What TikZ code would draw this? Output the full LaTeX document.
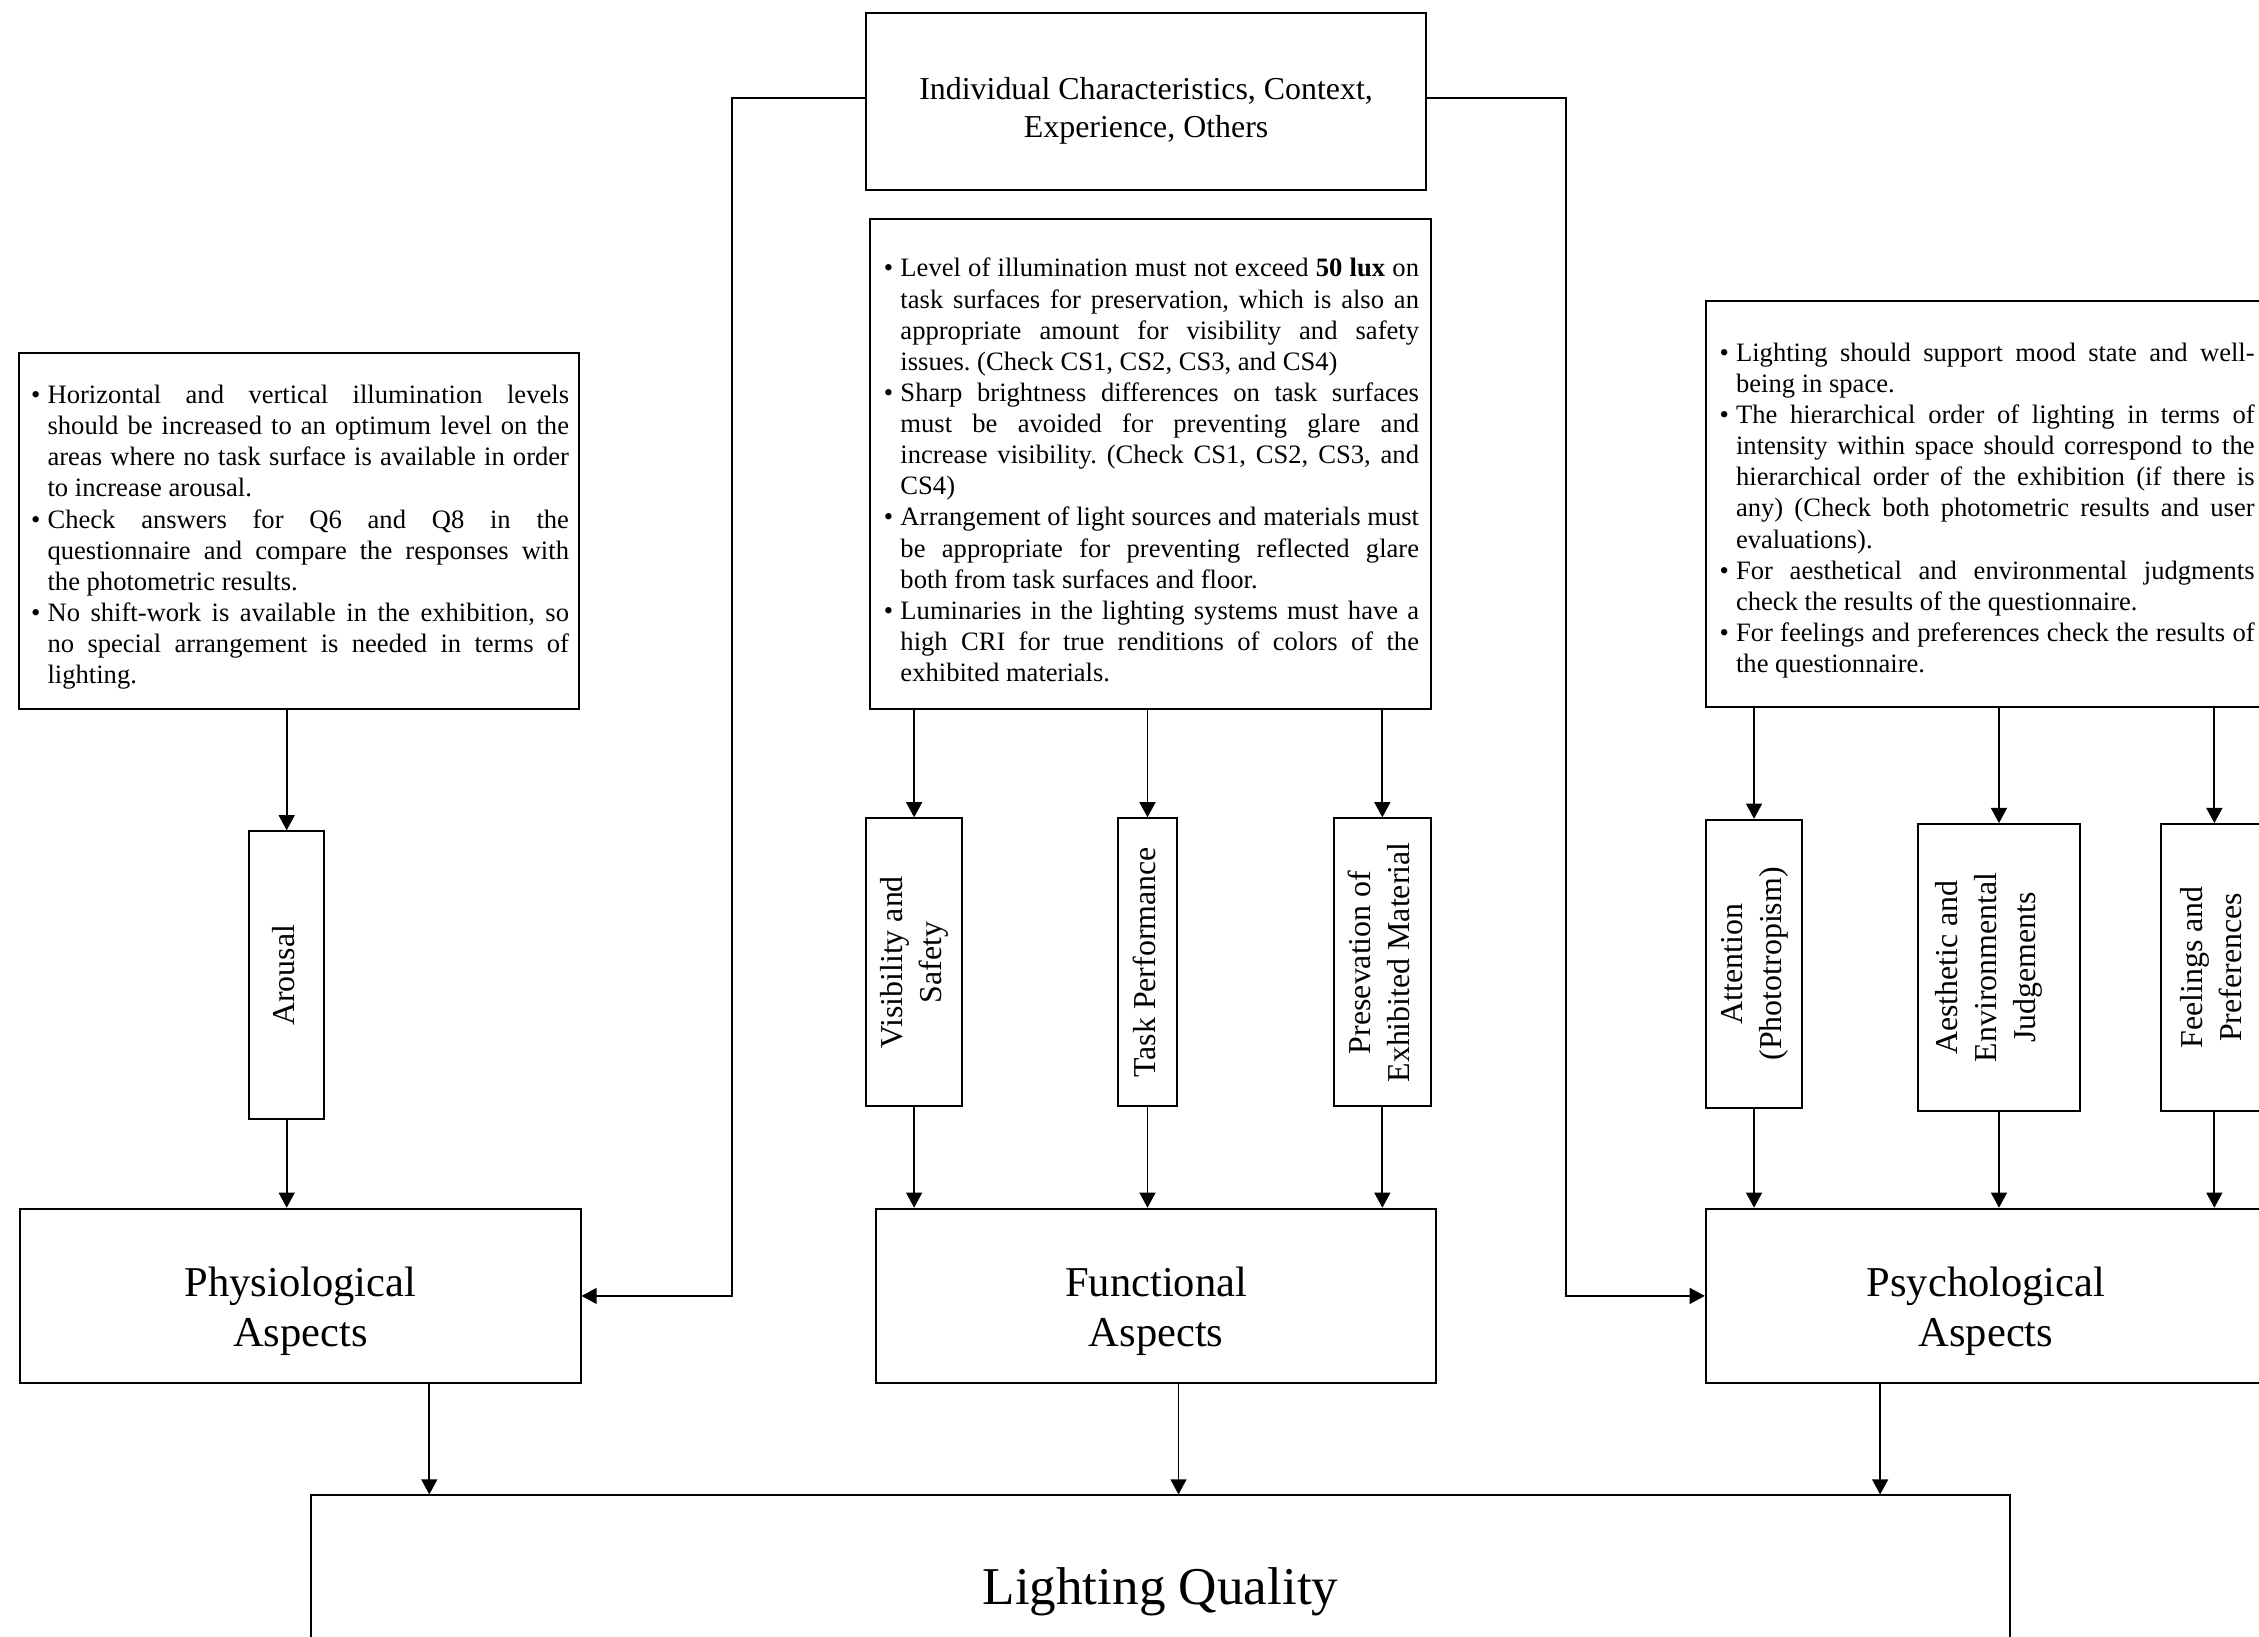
\documentclass[tikz,border=0pt]{standalone}
\usepackage{fontspec}
\setmainfont{Liberation Serif}[WordSpace={1,2,0}]
\usepackage{graphicx}
\usetikzlibrary{arrows.meta}

% sin guiones, texto justificado
\hyphenpenalty=10000
\tolerance=9999
\emergencystretch=1em
\frenchspacing

% lista con viñetas para las notas
\newenvironment{puntos}{%
  \begin{list}{\textbullet}{%
    \setlength{\leftmargin}{0.26cm}%
    \setlength{\labelsep}{0.1cm}%
    \setlength{\labelwidth}{0.16cm}%
    \setlength{\itemsep}{0pt}%
    \setlength{\parsep}{0pt}%
    \setlength{\topsep}{0pt}%
    \setlength{\partopsep}{0pt}}}%
  {\end{list}}
% texto vertical
\newcommand{\vtexto}[1]{\rotatebox{90}{\begin{tabular}{@{}c@{}}#1\end{tabular}}}

\begin{document}
\begin{tikzpicture}[x=0.02cm, y=-0.02cm, >={Triangle[length=0.21cm,width=0.22cm]},
    % Estilos de nodos
    caja/.style={
        draw, line width=0.8pt, inner sep=0pt
    },
    nota/.style={
        caja, minimum width=7.78cm, align=justify,
        font=\fontsize{10.5}{12.3}\selectfont
    },
    criterio/.style={
        caja, minimum height=4cm, align=center,
        font=\fontsize{12.6}{15.3}\selectfont
    },
    aspecto/.style={
        caja, minimum width=7.78cm, minimum height=2.42cm, align=center,
        text height=44pt, text depth=4pt,
        font=\fontsize{16.8}{19.8}\selectfont
    },
    flecha/.style={->, line width=0.75pt}
]
\useasboundingbox (0,0) rectangle (1568,1136);
\clip (0,0) rectangle (1568,1136);

% =============================================
% FACTORES (arriba)
% =============================================
\node[caja, minimum width=7.78cm, minimum height=2.46cm, align=center,
    text height=32pt, text depth=4pt,
    font=\fontsize{12.6}{14.7}\selectfont] (factores) at (795.5, 70.5)
    {Individual Characteristics, Context,\\Experience, Others};

% =============================================
% NOTAS
% =============================================
\node[nota, text width=7.5cm, minimum height=4.94cm] (notaFis) at (207.5, 368.5) {%
\begin{puntos}
\item Horizontal and vertical illumination levels should be increased to an optimum level on the areas where no task surface is available in order to increase arousal.
\item Check answers for Q6 and Q8 in the questionnaire and compare the responses with the photometric results.
\item No shift-work is available in the exhibition, so no special arrangement is needed in terms of lighting.
\end{puntos}\par\vspace*{0.08cm}};

\node[nota, text width=7.46cm, minimum height=6.8cm] (notaFun) at (798.5, 322) {%
\begin{puntos}
\item Level of illumination must not exceed \textbf{50 lux} on\linebreak task surfaces for preservation, which is also an\linebreak appropriate amount for visibility and safety issues. (Check CS1, CS2, CS3, and CS4)
\item Sharp brightness differences on task surfaces must be avoided for preventing glare and increase visibility. (Check CS1, CS2, CS3, and CS4)
\item Arrangement of light sources and materials must be appropriate for preventing reflected glare both from task surfaces and floor.
\item Luminaries in the lighting systems must have a\linebreak high CRI for true renditions of colors of the exhibited materials.
\end{puntos}\par\vspace*{0.26cm}};

\node[nota, text width=7.46cm, minimum height=5.64cm] (notaPsi) at (1378.5, 350) {%
\begin{puntos}
\item Lighting should support mood state and well-being in space.
\item The hierarchical order of lighting in terms of intensity within space should correspond to the hierarchical order of the exhibition (if there is any) (Check both photometric results and user evaluations).
\item For aesthetical and environmental judgments check the results of the questionnaire.
\item For feelings and preferences check the results of the questionnaire.
\end{puntos}\par\vspace*{0.3cm}};

% =============================================
% CRITERIOS (verticales)
% =============================================
\node[criterio, minimum width=1.04cm] (arousal) at (199, 677) {\vtexto{Arousal}};

\node[criterio, minimum width=1.34cm] (visib) at (634.5, 668) {\vtexto{Visibility and\\Safety}};
\node[criterio, minimum width=0.82cm] (tarea) at (796.5, 668) {\vtexto{Task Performance}};
\node[criterio, minimum width=1.34cm] (preserv) at (959.5, 668) {\vtexto{Presevation of\\Exhibited Material}};

\node[criterio, minimum width=1.34cm] (atencion) at (1217.5, 669) {\vtexto{Attention\\(Phototropism)}};
\node[criterio, minimum width=2.26cm, minimum height=3.98cm] (estetica) at (1387.5, 671.5)
    {\vtexto{Aesthetic and\\Environmental\\Judgements}\hspace{0.28cm}};
\node[criterio, minimum width=1.48cm, minimum height=3.98cm] (sentim) at (1537, 671.5)
    {\vtexto{Feelings and\\Preferences}};

% =============================================
% ASPECTOS
% =============================================
\node[aspecto] (fisio) at (208.5, 899.5) {Physiological\\Aspects};
\node[aspecto] (funcional) at (802.5, 899.5) {Functional\\Aspects};
\node[aspecto] (psico) at (1378.5, 899.5) {Psychological\\Aspects};

\node[caja, minimum width=23.58cm, minimum height=2.68cm,
    font=\fontsize{21}{25}\selectfont] (calidad) at (805.5, 1105) {Lighting Quality};

% =============================================
% CONEXIONES
% =============================================

% Notas -> criterios -> aspectos
\draw[flecha] (notaFis.south -| arousal) -- (arousal.north);
\draw[flecha] (arousal.south) -- (arousal.south |- fisio.north);

\foreach \n in {visib, tarea, preserv} {
    \draw[flecha] (notaFun.south -| \n) -- (\n.north);
    \draw[flecha] (\n.south) -- (\n.south |- funcional.north);
}

\foreach \n in {atencion, estetica, sentim} {
    \draw[flecha] (notaPsi.south -| \n) -- (\n.north);
    \draw[flecha] (\n.south) -- (\n.south |- psico.north);
}

% Factores -> aspectos
\draw[flecha] ([yshift=0.05cm]factores.west) -- ++(-92,0) |- (fisio.east);
\draw[flecha] ([yshift=0.05cm]factores.east) -- ++(96,0) |- (psico.west);

% Aspectos -> calidad
\coordinate (sFis) at ([xshift=1.79cm]fisio.south);
\coordinate (sFun) at ([xshift=0.31cm]funcional.south);
\coordinate (sPsi) at ([xshift=-1.47cm]psico.south);
\foreach \s in {sFis, sFun, sPsi}
    \draw[flecha] (\s) -- (\s |- calidad.north);

\end{tikzpicture}
\end{document}
